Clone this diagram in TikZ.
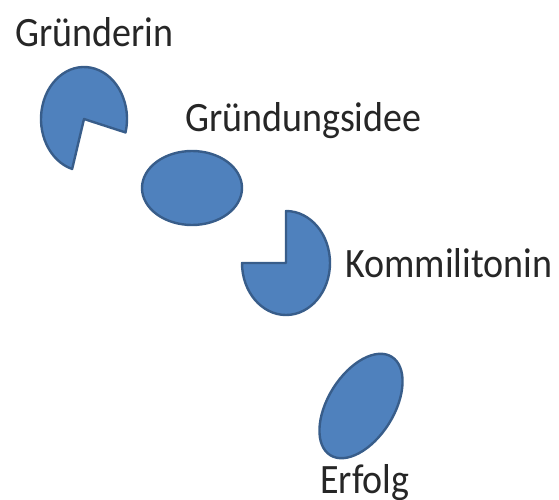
\documentclass[tikz,border=0pt]{standalone}
\usepackage{fontspec}
\setmainfont{Carlito}
\begin{document}
\begin{tikzpicture}[x=1pt,y=1pt,
  blob/.style={draw=blobline,fill=blobfill,line width=2.4pt,line join=round},
  lbl/.style={inner sep=0pt,anchor=base west,font=\fontsize{38}{40}\selectfont,text=black!85}]
\definecolor{blobfill}{HTML}{4F81BD}
\definecolor{blobline}{HTML}{385D8A}
\useasboundingbox (0,0) rectangle (559,499);
% shapes
\coordinate (p1) at (84,380);
\coordinate (el1) at (192,311);
\coordinate (p2) at (286,236);
\coordinate (el2) at (361,93);
\draw[blob] (p1) ++(-15:43 and 52) arc[start angle=-15,end angle=254,x radius=43,y radius=52] -- (p1) -- cycle;
\draw[blob] (el1) ellipse[x radius=50,y radius=37];
\draw[blob] (p2) ++(180:44 and 52) arc[start angle=180,end angle=450,x radius=44,y radius=52] -- (p2) -- cycle;
\draw[blob,rotate around={58:(el2)}] (el2) ellipse[x radius=58,y radius=33];
% labels
\node[lbl] (t1) at (15,452) {\scalebox{1}[1.1]{Gründerin}};
\node[lbl] (t2) at (185,367) {\scalebox{1}[1.1]{Gründungsidee}};
\node[lbl] (t3) at (345,222) {\scalebox{1}[1.1]{Kommilitonin}};
\node[lbl] (t4) at (320,6) {\scalebox{1}[1.1]{Erfolg}};
\end{tikzpicture}
\end{document}
